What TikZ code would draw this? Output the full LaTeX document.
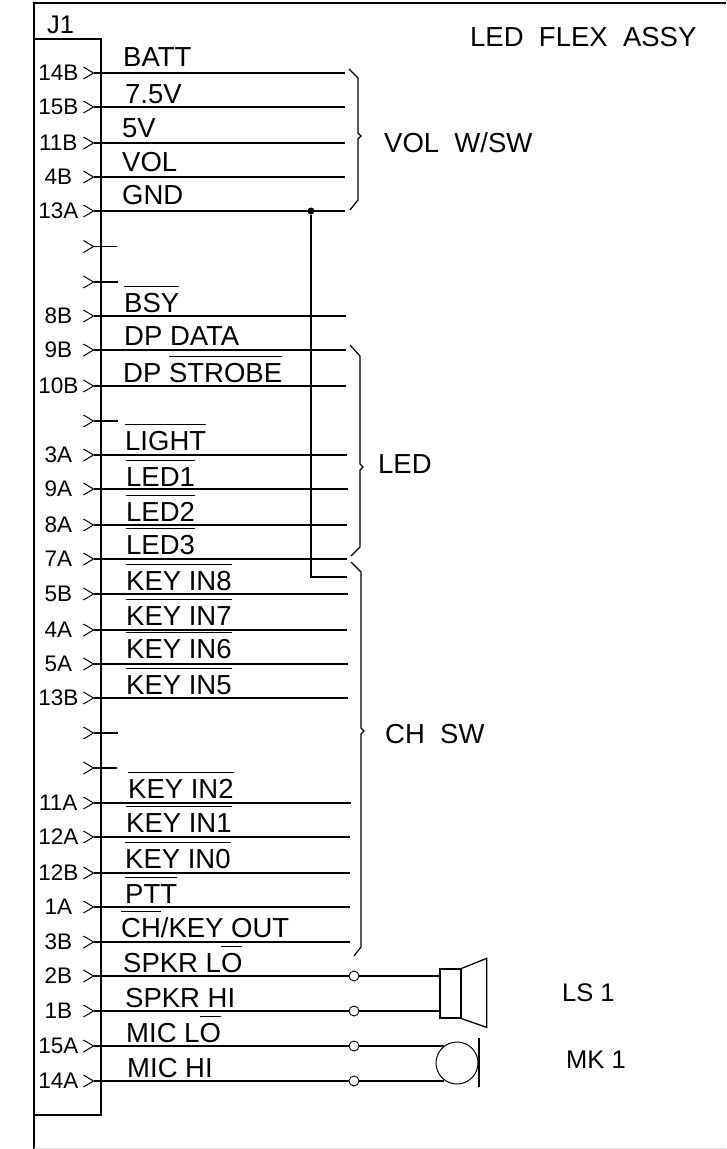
\documentclass[tikz,border=0pt]{standalone}
\usepackage{fontspec}
\setmainfont{Liberation Sans}
\usetikzlibrary{arrows.meta}
\newcommand{\ovl}[1]{$\overline{\mbox{\rule{0pt}{24pt}#1}}$}
\tikzset{
    line/.style = {line width=1.3pt},
    wire/.style = {line, {Straight Barb[reversed,length=10pt,width=12pt,line width=1pt]}-},
    pin/.style = {anchor=east, minimum width=49pt, inner sep=0pt, font=\fontsize{22.5}{22.5}\selectfont},
    signal/.style = {anchor=base west, inner sep=0pt, font=\fontsize{27.5}{27.5}\selectfont},
    tag/.style = {signal, font=\fontsize{25.5}{25.5}\selectfont},
    term/.style = {circle, draw, fill=white, line width=0.9pt, minimum size=10pt, inner sep=0pt},
    brace/.style = {line width=1.2pt}
}

\begin{document}
\begin{tikzpicture}[x=1pt, y=-1pt]
    \useasboundingbox (0,0) rectangle (726,1149);

    % Frame and connector
    \draw[line] (34,1149) -- (34,3) -- (726,3);
    \draw[gray!30] (34,1148) -- (726,1148);
    \draw[line] (34,39) rectangle (101,1115);
    \node[tag] (j1) at (47,33) {J1};

    % Title and groups
    \node[signal] (title) at (470,46) {LED\ \ FLEX\ \ ASSY};
    \node[signal] (volsw) at (384,152) {VOL\ \ W/SW};
    \node[signal] (led) at (378,473.5) {LED};
    \node[signal] (chsw) at (385,743.5) {CH\ \ SW};
    \node[tag] (ls1) at (562,1001) {LS 1};
    \node[tag] (mk1) at (566,1068) {MK 1};

    % Pins
    \node[pin] (p14B) at (83,73) {14B};
    \node[pin] (p15B) at (83,107) {15B};
    \node[pin] (p11B) at (83,143) {11B};
    \node[pin] (p4B) at (83,177) {4B};
    \node[pin] (p13A) at (83,211) {13A};
    \node[pin] (n1) at (83,246.5) {};
    \node[pin] (n2) at (83,282) {};
    \node[pin] (p8B) at (83,316) {8B};
    \node[pin] (p9B) at (83,350) {9B};
    \node[pin] (p10B) at (83,386) {10B};
    \node[pin] (n3) at (83,421) {};
    \node[pin] (p3A) at (83,455) {3A};
    \node[pin] (p9A) at (83,489) {9A};
    \node[pin] (p8A) at (83,525) {8A};
    \node[pin] (p7A) at (83,559) {7A};
    \node[pin] (p5B) at (83,594) {5B};
    \node[pin] (p4A) at (83,630) {4A};
    \node[pin] (p5A) at (83,664) {5A};
    \node[pin] (p13B) at (83,698) {13B};
    \node[pin] (n4) at (83,733) {};
    \node[pin] (n5) at (83,768) {};
    \node[pin] (p11A) at (83,803) {11A};
    \node[pin] (p12A) at (83,837) {12A};
    \node[pin] (p12B) at (83,873) {12B};
    \node[pin] (p1A) at (83,907) {1A};
    \node[pin] (p3B) at (83,942) {3B};
    \node[pin] (p2B) at (83,976) {2B};
    \node[pin] (p1B) at (83,1011) {1B};
    \node[pin] (p15A) at (83,1046) {15A};
    \node[pin] (p14A) at (83,1081) {14A};

    % Free wire ends
    \coordinate (e14B) at (345,73);
    \coordinate (e15B) at (345,107);
    \coordinate (e11B) at (345,143);
    \coordinate (e4B) at (345,177);
    \coordinate (e13A) at (345,211);
    \coordinate (en1) at (117,246.5);
    \coordinate (en2) at (118,282);
    \coordinate (e8B) at (346,316);
    \coordinate (e9B) at (346,350);
    \coordinate (e10B) at (346,386);
    \coordinate (en3) at (118,421);
    \coordinate (e3A) at (347,455);
    \coordinate (e9A) at (348,489);
    \coordinate (e8A) at (347,525);
    \coordinate (e7A) at (347,559);
    \coordinate (e5B) at (348,594);
    \coordinate (e4A) at (347,630);
    \coordinate (e5A) at (348,664);
    \coordinate (e13B) at (348,698);
    \coordinate (en4) at (118,733);
    \coordinate (en5) at (117,768);
    \coordinate (e11A) at (351,803);
    \coordinate (e12A) at (350,837);
    \coordinate (e12B) at (350,873);
    \coordinate (e1A) at (350,907);
    \coordinate (e3B) at (350,942);
    \coordinate (egnd) at (347,577);

    % Wires
    \draw[wire] (p14B.east) -- (e14B);
    \draw[wire] (p15B.east) -- (e15B);
    \draw[wire] (p11B.east) -- (e11B);
    \draw[wire] (p4B.east) -- (e4B);
    \draw[wire] (p13A.east) -- (e13A);
    \draw[wire] (n1.east) -- (en1);
    \draw[wire] (n2.east) -- (en2);
    \draw[wire] (p8B.east) -- (e8B);
    \draw[wire] (p9B.east) -- (e9B);
    \draw[wire] (p10B.east) -- (e10B);
    \draw[wire] (n3.east) -- (en3);
    \draw[wire] (p3A.east) -- (e3A);
    \draw[wire] (p9A.east) -- (e9A);
    \draw[wire] (p8A.east) -- (e8A);
    \draw[wire] (p7A.east) -- (e7A);
    \draw[wire] (p5B.east) -- (e5B);
    \draw[wire] (p4A.east) -- (e4A);
    \draw[wire] (p5A.east) -- (e5A);
    \draw[wire] (p13B.east) -- (e13B);
    \draw[wire] (n4.east) -- (en4);
    \draw[wire] (n5.east) -- (en5);
    \draw[wire] (p11A.east) -- (e11A);
    \draw[wire] (p12A.east) -- (e12A);
    \draw[wire] (p12B.east) -- (e12B);
    \draw[wire] (p1A.east) -- (e1A);
    \draw[wire] (p3B.east) -- (e3B);

    % GND jumper
    \node[circle, fill, inner sep=0pt, minimum size=7pt] (jct) at (311,211) {};
    \draw[line] (jct) |- (egnd);

    % Signal names
    \node[signal] (sbatt) at (123,66) {BATT};
    \node[signal] (s75v) at (125,103) {7.5V};
    \node[signal] (s5v) at (122,137) {5V};
    \node[signal] (svol) at (122,171) {VOL};
    \node[signal] (sgnd) at (122,204) {GND};
    \node[signal] (sbsy) at (124,312) {\ovl{BSY}};
    \node[signal] (sdata) at (124,345) {DP DATA};
    \node[signal] (sstrobe) at (123,382) {DP \ovl{STROBE}};
    \node[signal] (slight) at (125,450) {\ovl{LIGHT}};
    \node[signal] (sled1) at (126,486) {\ovl{LED1}};
    \node[signal] (sled2) at (126,521) {\ovl{LED2}};
    \node[signal] (sled3) at (126,554) {\ovl{LED3}};
    \node[signal] (skey8) at (126,590) {\ovl{KEY IN8}};
    \node[signal] (skey7) at (126,625) {\ovl{KEY IN7}};
    \node[signal] (skey6) at (126,658) {\ovl{KEY IN6}};
    \node[signal] (skey5) at (126,694) {\ovl{KEY IN5}};
    \node[signal] (skey2) at (128,798) {\ovl{KEY IN2}};
    \node[signal] (skey1) at (126,832) {\ovl{KEY IN1}};
    \node[signal] (skey0) at (125,868) {\ovl{KEY IN0}};
    \node[signal] (sptt) at (125,903) {\ovl{PTT}};
    \node[signal] (sch) at (121,937) {\ovl{CH}/KEY OUT};
    \node[signal] (sspkl) at (123,972) {SPKR L\ovl{O}};
    \node[signal] (sspkh) at (125,1007) {SPKR HI};
    \node[signal] (smicl) at (126,1042) {MIC L\ovl{O}};
    \node[signal] (smich) at (127,1077) {MIC HI};

    % Braces
    \draw[brace] (349,69) -- (358,78) -- (358,133) -- (361,136) -- (358,139) -- (358,200) -- (350,210);
    \draw[brace] (350,345) -- (360,356) -- (360,464) -- (363,467) -- (360,470) -- (360,547) -- (351,556);
    \draw[brace] (351,562) -- (361,572) -- (361,728) -- (364,731) -- (361,734) -- (361,947) -- (354,956);

    % Speaker
    \node[draw, line width=1.3pt, minimum width=21pt, minimum height=49pt, inner sep=0pt] (spk) at (450.5,993.5) {};
    \draw[line] (spk.north east) -- ++(25,-10) -- ++(0,69) -- (spk.south east);
    \node[term] (t2B) at (354,976) {};
    \node[term] (t1B) at (354,1011) {};
    \draw[wire] (p2B.east) -- (t2B);
    \draw[wire] (p1B.east) -- (t1B);
    \draw[line] (t2B) -- (spk.west |- t2B);
    \draw[line] (t1B) -- (spk.west |- t1B);

    % Microphone
    \node[circle, draw, line width=1pt, minimum size=42pt, inner sep=0pt] (mic) at (457,1063) {};
    \draw[line] (479,1038) -- (479,1087);
    \node[term] (t15A) at (354,1046) {};
    \node[term] (t14A) at (354,1081) {};
    \draw[wire] (p15A.east) -- (t15A);
    \draw[wire] (p14A.east) -- (t14A);
    \draw[line] (t15A) -- (t15A -| mic.126);
    \draw[line] (t14A) -- (t14A -| mic.234);
\end{tikzpicture}
\end{document}
